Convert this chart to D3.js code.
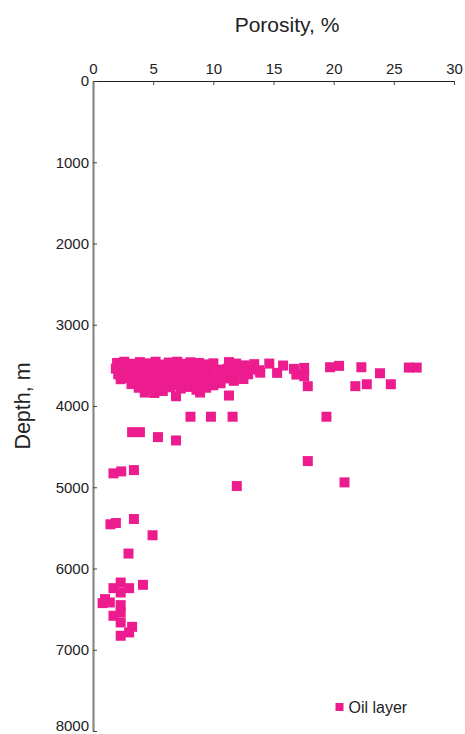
<!DOCTYPE html>
<html>
<head>
<meta charset="utf-8">
<script src="https://cdn.jsdelivr.net/npm/d3@7"></script>
<style>
  html, body { margin: 0; padding: 0; background: #fff; }
  svg { display: block; font-family: "Liberation Sans", Arial, sans-serif; }
</style>
</head>
<body>
<svg id="chart" width="465" height="734"></svg>
<script>
// Porosity (%) and depth (m) of oil-layer samples
const porosity = [
  // upper band, 3450-3520 m
  2.0, 2.6, 3.3, 3.9, 4.5, 5.2, 5.8, 6.3, 7.0, 7.6, 8.1, 8.8, 9.4, 10.0, 11.3, 11.9, 12.6, 13.4, 14.65, 15.8,
  // 3530-3560 m
  1.9, 2.5, 3.1, 3.7, 4.3, 4.9, 5.6, 6.2, 6.9, 7.5, 8.3, 9.0, 9.7, 10.5, 11.2, 11.8, 12.4, 13.1, 13.8, 16.7, 17.55,
  // 3580-3640 m
  2.1, 2.8, 3.4, 4.0, 4.7, 5.4, 6.0, 6.6, 7.3, 8.0, 8.6, 9.2, 9.9, 10.7, 11.5, 12.2, 12.9, 13.9, 15.3, 16.9, 17.55,
  // 3650-3690 m
  2.3, 3.0, 3.6, 4.2, 4.9, 5.5, 6.2, 6.8, 7.5, 8.2, 9.0, 9.6, 10.3, 11.0, 11.7, 12.5,
  // 3700-3780 m
  3.2, 3.9, 4.6, 5.2, 5.9, 6.5, 7.2, 7.8, 8.5, 9.3, 10.0, 10.6, 3.8, 4.4, 5.1, 5.8, 6.4, 7.3, 8.0, 9.4,
  // 3800-3890 m
  4.3, 5.1, 5.8, 8.9, 6.9, 11.3, 8.6,
  // wide-porosity samples around 3500-3760 m
  19.7, 20.45, 22.3, 23.85, 21.8, 22.75, 24.75, 26.25, 26.9, 17.85,
  // 4100-5000 m
  8.1, 9.8, 11.6, 19.4, 3.25, 3.9, 5.4, 6.9, 17.85, 20.9, 11.95, 1.7, 2.35, 3.4,
  // 5300-6900 m
  1.45, 1.9, 3.4, 4.95, 2.95, 4.15, 2.3, 1.7, 3.0, 2.3, 1.0, 1.4, 0.8, 2.3, 2.3, 1.7, 2.3, 3.25, 3.0, 2.3
];
const depth = [
  3470, 3455, 3480, 3460, 3475, 3455, 3490, 3465, 3455, 3480, 3462, 3470, 3488, 3475, 3460, 3478, 3500, 3485, 3478, 3502,
  3540, 3530, 3555, 3535, 3545, 3528, 3550, 3538, 3532, 3555, 3540, 3548, 3530, 3552, 3540, 3535, 3558, 3545, 3560, 3543, 3531,
  3610, 3590, 3625, 3600, 3595, 3615, 3585, 3605, 3620, 3595, 3610, 3590, 3625, 3600, 3615, 3595, 3610, 3590, 3592, 3613, 3633,
  3670, 3655, 3680, 3660, 3675, 3665, 3685, 3660, 3670, 3655, 3680, 3665, 3675, 3660, 3690, 3668,
  3730, 3715, 3740, 3710, 3725, 3745, 3720, 3735, 3710, 3730, 3745, 3720, 3775, 3765, 3780, 3760, 3770, 3785, 3765, 3775,
  3834, 3840, 3815, 3834, 3880, 3871, 3800,
  3523, 3506, 3523, 3597, 3756, 3732, 3732, 3527, 3527, 3756,
  4132, 4132, 4132, 4132, 4322, 4322, 4383, 4424, 4678, 4940, 4985, 4829, 4805, 4789,
  5456, 5440, 5391, 5591, 5816, 6201, 6173, 6242, 6242, 6295, 6377, 6418, 6426, 6451, 6541, 6582, 6664, 6718, 6787, 6828
];

const xTicks = [0, 5, 10, 15, 20, 25, 30];
const yTicks = [0, 1000, 2000, 3000, 4000, 5000, 6000, 7000, 8000];
const seriesName = "Oil layer";

const svg = d3.select("#chart");
const margin = { left: 93, top: 81, right: 11, bottom: 3 };
const W = 465, H = 734;

const x = d3.scaleLinear().domain([0, 30]).range([margin.left, W - margin.right]);
const y = d3.scaleLinear().domain([0, 8000]).range([margin.top, H - margin.bottom]);

const pink = "#ec1c8e";
const size = 10;
const fontFam = "Liberation Sans, Arial, sans-serif";

// markers
const pts = porosity.map((p, i) => ({ p, d: depth[i] }));
svg.append("g").selectAll("rect").data(pts).join("rect")
  .attr("x", d => x(d.p) - size / 2)
  .attr("y", d => y(d.d) - size / 2)
  .attr("width", size).attr("height", size)
  .attr("fill", pink);

// top axis
const xAxis = svg.append("g")
  .attr("transform", `translate(0,${margin.top})`)
  .call(d3.axisTop(x).tickValues(xTicks).tickSizeInner(-4).tickSizeOuter(0));
xAxis.select(".domain").attr("stroke", "#222").attr("stroke-width", 1.2);
xAxis.selectAll(".tick line").attr("stroke", "#444");
xAxis.selectAll(".tick text")
  .attr("font-size", 15).attr("fill", "#222").attr("font-family", fontFam)
  .attr("dy", "0").attr("y", -7);

// left axis
const yAxis = svg.append("g")
  .attr("transform", `translate(${margin.left},0)`)
  .call(d3.axisLeft(y).tickValues(yTicks).tickFormat(d3.format("d")).tickSizeInner(-4).tickSizeOuter(0));
yAxis.select(".domain").attr("stroke", "#888").attr("stroke-width", 2.2);
yAxis.selectAll(".tick line").attr("stroke", "#444");
yAxis.selectAll(".tick text")
  .attr("font-size", 15).attr("fill", "#222").attr("font-family", fontFam)
  .attr("x", -4)
  .attr("dy", d => d === 8000 ? "-0.05em" : "0.32em");

// axis titles
svg.append("text")
  .attr("x", 287).attr("y", 32)
  .attr("text-anchor", "middle")
  .attr("font-size", 21).attr("fill", "#222").attr("font-family", fontFam)
  .text("Porosity, %");

svg.append("text")
  .attr("transform", `translate(30,${y(4000)}) rotate(-90)`)
  .attr("text-anchor", "middle")
  .attr("font-size", 21.5).attr("fill", "#222").attr("font-family", fontFam)
  .text("Depth, m");

// legend
const lg = svg.append("g").attr("transform", "translate(335.5,703)");
lg.append("rect").attr("width", 8).attr("height", 8).attr("fill", pink);
lg.append("text").attr("x", 13).attr("y", 9.5)
  .attr("font-size", 16).attr("fill", "#222").attr("font-family", fontFam)
  .text(seriesName);
</script>
</body>
</html>
